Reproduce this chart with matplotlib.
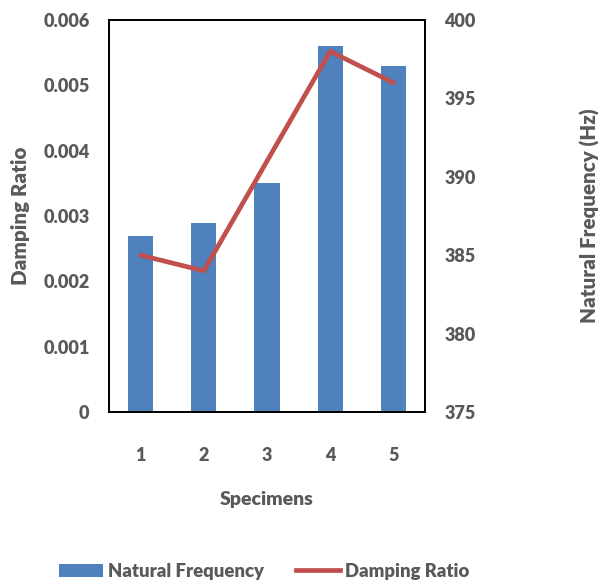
import matplotlib
matplotlib.use("Agg")
import matplotlib.pyplot as plt
from matplotlib.patches import Patch
from matplotlib.lines import Line2D

specimens = ["1", "2", "3", "4", "5"]
bar_values = [0.0027, 0.0029, 0.0035, 0.0056, 0.0053]   # Natural Frequency (left axis)
line_values = [385, 384, 391, 398, 396]                 # Damping Ratio (right axis)
left_ticks = [0, 0.001, 0.002, 0.003, 0.004, 0.005, 0.006]
left_labels = ["0", "0.001", "0.002", "0.003", "0.004", "0.005", "0.006"]
right_ticks = [375, 380, 385, 390, 395, 400]

plt.rcParams['font.family'] = ['Lato', 'DejaVu Sans']
W = 800
grey = '#595959'
bar_color = '#4F81BD'
line_color = '#C0504D'

fig = plt.figure(figsize=(6.15, 5.85), dpi=100)
ax = fig.add_axes([109/615, 1-412/585, (425-109)/615, (412-20)/585])
x = list(range(len(specimens)))
ax.bar(x, bar_values, width=0.4, color=bar_color, zorder=2)
ax.set_xlim(-0.5, len(specimens)-0.5)
ax.set_ylim(0, 0.006)
ax.set_yticks(left_ticks)
ax.set_yticklabels(left_labels)
ax.set_xticks(x)
ax.set_xticklabels(specimens)
ax.tick_params(axis='y', length=0, colors=grey, labelsize=13, pad=14)
ax.tick_params(axis='x', length=0, colors=grey, labelsize=13, pad=25)
for lab in ax.get_xticklabels() + ax.get_yticklabels():
    lab.set_fontweight(W)
for s in ax.spines.values():
    s.set_linewidth(1.3)
    s.set_color('black')

ax2 = ax.twinx()
ax2.plot(x, line_values, color=line_color, linewidth=3.4, solid_capstyle='round', zorder=3)
ax2.set_ylim(375, 400)
ax2.set_yticks(right_ticks)
ax2.tick_params(axis='y', length=0, colors=grey, labelsize=13, pad=14)
for lab in ax2.get_yticklabels():
    lab.set_fontweight(W)
for s in ax2.spines.values():
    s.set_linewidth(1.3)

fig.text(20/615, 1-216/585, "Damping Ratio", rotation=90, ha='center', va='center',
         color=grey, fontsize=14.8, fontweight=W)
fig.text(590/615, 1-216/585, "Natural Frequency (Hz)", rotation=90, ha='center', va='center',
         color=grey, fontsize=14.8, fontweight=W)
fig.text(267/615, 1-500/585, "Specimens", ha='center', va='center',
         color=grey, fontsize=14, fontweight=W)

handles = [Patch(facecolor=bar_color, edgecolor='none'),
           Line2D([0], [0], color=line_color, linewidth=3.4)]
leg = fig.legend(handles, ["Natural Frequency", "Damping Ratio"], loc='center',
                 bbox_to_anchor=(264/615, 1-571/585), ncol=2, frameon=False,
                 fontsize=13.3, handlelength=2.4, handleheight=0.7, columnspacing=1.7,
                 handletextpad=0.28)
for t in leg.get_texts():
    t.set_color(grey)
    t.set_fontweight(W)

fig.savefig("out.png", dpi=100)
